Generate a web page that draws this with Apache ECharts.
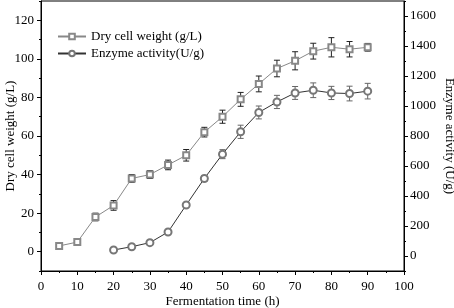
<!DOCTYPE html>
<html><head><meta charset="utf-8">
<script src="https://cdn.jsdelivr.net/npm/echarts@6/dist/echarts.min.js"></script>
<style>html,body{margin:0;padding:0;background:#fff}#c{width:454px;height:308px}</style>
</head><body><div id="c"></div>
<script>
var dcwTime = [5,10,15,20,25,30,35,40,45,50,55,60,65,70,75,80,85,90];
var dcwValues = [3,5,18,24,38,40,45,50,62,70,79,87,95,99,104,106,105,106];
var dcwErr = [0.8,1,2,2.5,2,2,2.5,3,2.5,3.4,3.6,4.1,4.3,4.7,4.1,5,4,2];
var enzTime = [20,25,30,35,40,45,50,55,60,65,70,75,80,85,90];
var enzValues = [40,62,89,160,340,517,679,828,957,1027,1087,1105,1087,1083,1099];
var enzErr = [15,15,15,15,15,20,30,44,43,44,43,49,44,49,52];
var leftTicks = [0,20,40,60,80,100,120];
var rightTicks = [0,200,400,600,800,1000,1200,1400,1600];
var legendNames = ['Dry cell weight (g/L)','Enzyme activity(U/g)'];

var FONT = '"Liberation Serif", "Times New Roman", serif';
function pairs(xs, ys){ return xs.map(function(x,i){return [x, ys[i]];}); }
function errData(xs, ys, es){ return xs.map(function(x,i){return [x, ys[i]-es[i], ys[i]+es[i]];}); }
function errRender(color){
  return function(params, api){
    var x = api.value(0), lo = api.value(1), hi = api.value(2);
    var p1 = api.coord([x, lo]), p2 = api.coord([x, hi]);
    var w = 3;
    var st = {stroke: color, lineWidth: 1};
    return {type:'group', children:[
      {type:'line', shape:{x1:p1[0],y1:p1[1],x2:p2[0],y2:p2[1]}, style:st},
      {type:'line', shape:{x1:p1[0]-w,y1:p1[1],x2:p1[0]+w,y2:p1[1]}, style:st},
      {type:'line', shape:{x1:p2[0]-w,y1:p2[1],x2:p2[0]+w,y2:p2[1]}, style:st}
    ]};
  };
}
var chart = echarts.init(document.getElementById('c'), null, {renderer:'canvas'});
var lbl = {color:'#000', fontFamily:FONT, fontSize:13, formatter:function(v){return String(v);}};
var nameStyle = {color:'#000', fontFamily:FONT, fontSize:13};
function minorAxis(min, max, interval, pos){
  return {type:'value', min:min, max:max, interval:interval, position:pos,
    axisLine:{show:false}, axisLabel:{show:false}, splitLine:{show:false},
    axisTick:{show:true, length:2, lineStyle:{color:'#000'}}};
}
chart.setOption({
  animation:false,
  backgroundColor:'#fff',
  grid:{left:41, right:50, top:1, bottom:37, show:true, borderColor:'#000', borderWidth:1,
    containLabel:false, outerBoundsMode:'none'},
  legend:{
    left:52, top:25, orient:'vertical', itemGap:4, itemWidth:28, itemHeight:7,
    textStyle:{fontFamily:FONT, fontSize:13, color:'#000'},
    data:legendNames
  },
  xAxis:{
    type:'value', min:0, max:100, interval:10,
    name:'Fermentation time (h)', nameLocation:'middle', nameGap:24, nameMoveOverlap:false, nameTextStyle:nameStyle,
    axisLine:{show:true, onZero:false, lineStyle:{color:'#000'}},
    axisTick:{show:true, length:4, lineStyle:{color:'#000'}},
    minorTick:{show:true, splitNumber:2, length:2, lineStyle:{color:'#000'}},
    splitLine:{show:false},
    axisLabel:Object.assign({}, lbl, {margin:9})
  },
  yAxis:[
    {
      type:'value', min:-10, max:130, position:'left',
      name:'Dry cell weight (g/L)', nameLocation:'middle', nameGap:24, nameMoveOverlap:false, nameTextStyle:nameStyle,
      axisLine:{show:true, onZero:false, lineStyle:{color:'#000'}},
      axisTick:{show:true, length:4, customValues:leftTicks, lineStyle:{color:'#000'}},
      splitLine:{show:false},
      axisLabel:Object.assign({}, lbl, {margin:7, customValues:leftTicks})
    },
    {
      type:'value', min:-100, max:1700, position:'right',
      name:'Enzyme activity (U/g)', nameLocation:'middle', nameGap:39, nameRotate:-90, nameMoveOverlap:false, nameTextStyle:nameStyle,
      axisLine:{show:true, onZero:false, lineStyle:{color:'#000'}},
      axisTick:{show:true, length:4, customValues:rightTicks, lineStyle:{color:'#000'}},
      splitLine:{show:false},
      axisLabel:Object.assign({}, lbl, {margin:6, customValues:rightTicks})
    },
    minorAxis(-10, 130, 10, 'left'),
    minorAxis(-100, 1700, 100, 'right')
  ],
  series:[
    {type:'custom', yAxisIndex:0, data:errData(dcwTime, dcwValues, dcwErr),
      renderItem:errRender('#222'), z:2, silent:true},
    {type:'custom', yAxisIndex:1, data:errData(enzTime, enzValues, enzErr),
      renderItem:errRender('#666'), z:2, silent:true},
    {name:legendNames[0], type:'line', yAxisIndex:0, data:pairs(dcwTime, dcwValues),
      symbol:'emptyRect', symbolSize:6, itemStyle:{color:'#888', borderWidth:1},
      lineStyle:{color:'#888', width:1}, z:3},
    {name:legendNames[1], type:'line', yAxisIndex:1, data:pairs(enzTime, enzValues),
      symbol:'emptyCircle', symbolSize:7, itemStyle:{color:'#777', borderWidth:1},
      lineStyle:{color:'#333', width:1}, z:3}
  ]
});
</script></body></html>
